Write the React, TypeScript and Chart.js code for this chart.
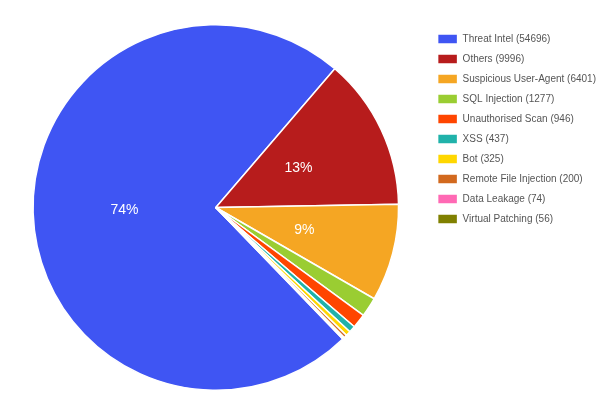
import React, { useEffect, useRef } from 'react';
import { Chart, registerables, Plugin } from 'chart.js';

Chart.register(...registerables);

const categories = [
  'Threat Intel',
  'Others',
  'Suspicious User-Agent',
  'SQL Injection',
  'Unauthorised Scan',
  'XSS',
  'Bot',
  'Remote File Injection',
  'Data Leakage',
  'Virtual Patching',
];
const counts = [54696, 9996, 6401, 1277, 946, 437, 325, 200, 74, 56];
const colors = [
  '#3f55f3',
  '#b71c1c',
  '#f5a623',
  '#9acd32',
  '#ff4500',
  '#20b2aa',
  '#ffd700',
  '#d2691e',
  '#ff69b4',
  '#808000',
];

// percentage text in the bigger slices
const percentLabels: Plugin<'pie'> = {
  id: 'percentLabels',
  afterDatasetsDraw(chart) {
    const { ctx } = chart;
    const meta = chart.getDatasetMeta(0);
    const total = counts.reduce((a, b) => a + b, 0);
    ctx.save();
    ctx.fillStyle = '#ffffff';
    ctx.font = '14px "Liberation Sans", Arial, sans-serif';
    ctx.textAlign = 'center';
    ctx.textBaseline = 'middle';
    meta.data.forEach((arc, i) => {
      const pct = (counts[i] / total) * 100;
      if (pct < 5) return;
      const pos = (arc as any).tooltipPosition(false);
      ctx.fillText(Math.round(pct) + '%', pos.x, pos.y);
    });
    ctx.restore();
  },
};

export default function App() {
  const chartRef = useRef<HTMLCanvasElement>(null);
  const chartInstance = useRef<Chart | null>(null);

  useEffect(() => {
    document.body.style.margin = '0';
    if (!chartRef.current) return;
    if (chartInstance.current) chartInstance.current.destroy();
    const ctx = chartRef.current.getContext('2d');
    if (!ctx) return;

    chartInstance.current = new Chart(ctx, {
      type: 'pie',
      data: {
        labels: categories.map((c, i) => `${c} (${counts[i]})`),
        datasets: [
          {
            data: counts,
            backgroundColor: colors,
            borderColor: '#ffffff',
            borderWidth: 1.5,
          },
        ],
      },
      options: {
        animation: false,
        responsive: true,
        maintainAspectRatio: false,
        rotation: 136,
        layout: {
          padding: { top: 24, bottom: 28, left: 4 },
        },
        plugins: {
          legend: {
            position: 'right',
            align: 'start',
            labels: {
              boxWidth: 20,
              boxHeight: 10,
              padding: 10,
              color: '#555555',
              font: { size: 10, family: '"Liberation Sans", Arial, sans-serif' },
            },
          },
          tooltip: { enabled: false },
        },
      },
      plugins: [percentLabels],
    });

    return () => {
      if (chartInstance.current) {
        chartInstance.current.destroy();
        chartInstance.current = null;
      }
    };
  }, []);

  return (
    <div style={{ width: 606, height: 419, position: 'relative', background: '#fff' }}>
      <canvas ref={chartRef}></canvas>
    </div>
  );
}
